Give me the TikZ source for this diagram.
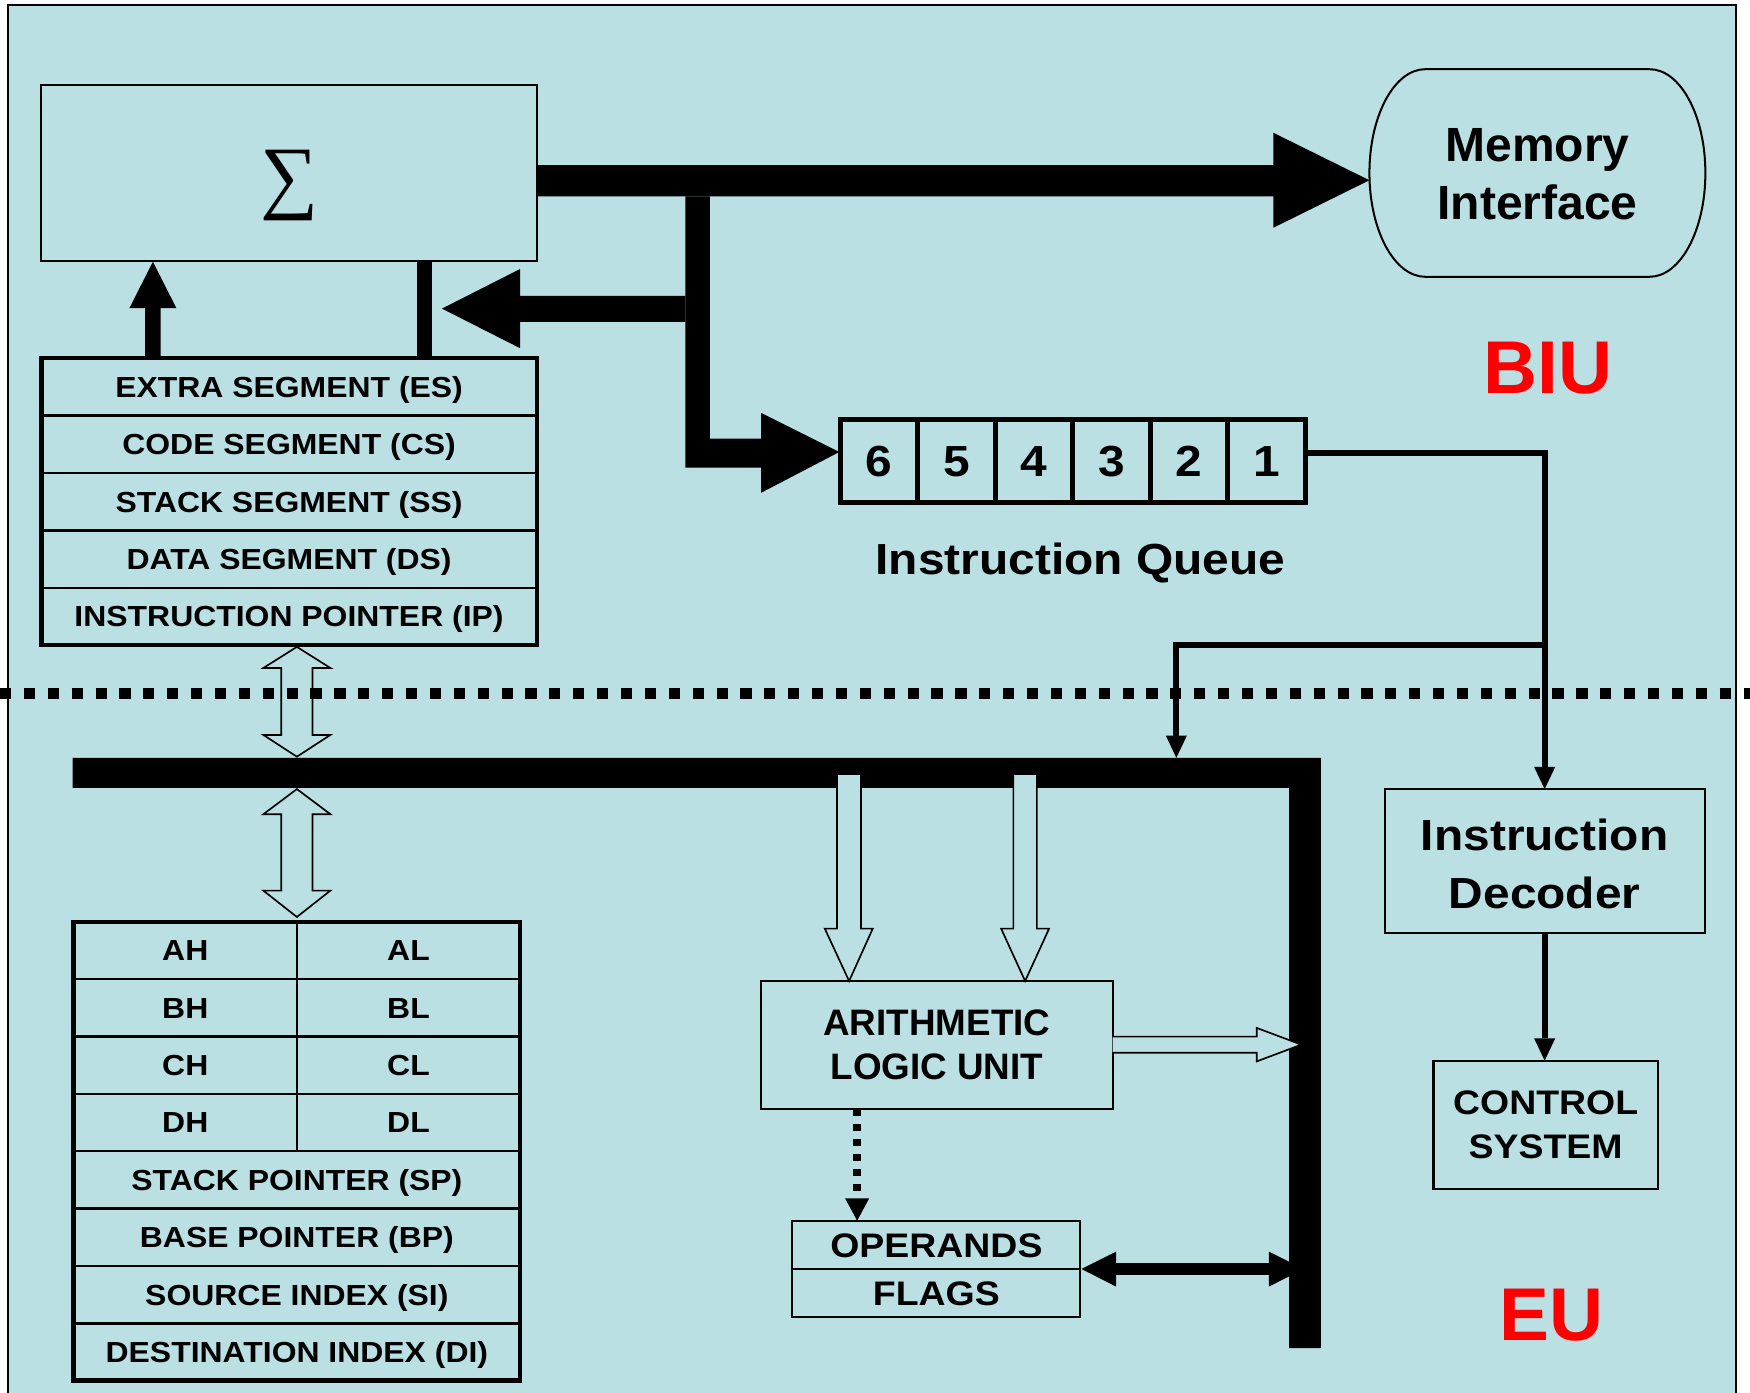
\documentclass[tikz,border=0pt]{standalone}
\usepackage{fontspec}
\setmainfont{Liberation Sans}
\newfontfamily\wsans[FakeStretch=1.1]{Liberation Sans}
\newfontfamily\symserif{Liberation Serif}
\usetikzlibrary{arrows.meta}
\definecolor{bgblue}{RGB}{186,224,227}
\definecolor{biured}{RGB}{255,0,0}
\newcommand\fReg{\wsans\bfseries\fontsize{26}{30}\selectfont}
\newcommand\fDig{\wsans\bfseries\fontsize{39}{44}\selectfont}
\newcommand\fIQ{\wsans\bfseries\fontsize{39}{44}\selectfont}
\newcommand\fID{\wsans\bfseries\fontsize{39}{52.3}\selectfont}
\newcommand\fMem{\bfseries\fontsize{43}{51.7}\selectfont}
\newcommand\fALU{\bfseries\fontsize{33}{39}\selectfont}
\newcommand\fCS{\wsans\bfseries\fontsize{30.5}{39.8}\selectfont}
\newcommand\fOp{\wsans\bfseries\fontsize{30.5}{36}\selectfont}
\newcommand\fBig{\bfseries\fontsize{67}{70}\selectfont}
\newcommand\fSig{\symserif\fontsize{73}{76}\selectfont}
\begin{document}
\begin{tikzpicture}[x=1pt,y=-1pt,
  thinbox/.style={draw,line width=1.8pt,inner sep=0pt,outer sep=0pt},
  cellA/.style={draw,line width=2.2pt,inner sep=0pt,outer sep=0pt,font=\fReg,text height=18.6pt,text depth=0pt},
  segcell/.style={cellA,minimum width=444pt,minimum height=51.4pt},
  gphalf/.style={cellA,minimum width=200pt,minimum height=51.375pt},
  gpfull/.style={cellA,minimum width=400pt,minimum height=51.375pt},
  qcell/.style={draw,line width=4.5pt,inner sep=0pt,outer sep=0pt,minimum width=69.4pt,minimum height=74pt,font=\fDig,text height=27.9pt,text depth=0pt},
  fat/.style={fill=black},
  hollow/.style={fill=bgblue,draw=black,line width=1.5pt,line join=miter},
  conn/.style={line width=5.5pt,-{Triangle[length=20pt,width=19pt,line width=0pt]}},
  bigred/.style={font=\fBig,text=biured,text height=48pt,text depth=0pt,inner sep=0pt},
]
\useasboundingbox (0,0) rectangle (1568,1248);
% background and frame
\fill[white] (0,0) rectangle (1568,1248);
\fill[bgblue] (7,4.5) rectangle (1555.5,1250);
\draw[line width=1.8pt] (7,1252) -- (7,4.5) -- (1555.5,4.5) -- (1555.5,1252);

% Sigma box
\node[thinbox,minimum width=444pt,minimum height=158pt] (sigbox) at (259,155) {};
\node[font=\fSig,inner sep=0pt] (sig) at (259,166) {∑};

% fat arrows of the BIU
\fill[fat] (481,148) -- (1141,148) -- (1141,119) -- (1227,161.5) -- (1141,204) -- (1141,176) -- (481,176) -- cycle;
\fill[fat] (614,176) -- (636,176) -- (636,393) -- (682,393) -- (682,370) -- (752,405) -- (682,441.5) -- (682,419) -- (614,419) -- cycle;
\fill[fat] (614,265) -- (466,265) -- (466,241) -- (396,276.5) -- (466,312) -- (466,288.5) -- (614,288.5) -- cycle;
\fill[fat] (130,321) -- (144,321) -- (144,276) -- (158,276) -- (137,234.5) -- (116,276) -- (130,276) -- cycle;
\fill[fat] (374,234) rectangle (387,321);

% segment registers
\node[segcell] (es) at (259,346.7) {EXTRA SEGMENT (ES)};
\node[segcell] (cs) at (259,398.1) {CODE SEGMENT (CS)};
\node[segcell] (ss) at (259,449.5) {STACK SEGMENT (SS)};
\node[segcell] (ds) at (259,500.9) {DATA SEGMENT (DS)};
\node[segcell] (ip) at (259,552.3) {INSTRUCTION POINTER (IP)};
\draw[line width=4pt] (es.north west) rectangle (ip.south east);

% Memory interface
\draw[line width=1.8pt] (1277,62) -- (1478,62) .. controls (1505.6,62) and (1528,103.6) .. (1528,155)
  .. controls (1528,206.4) and (1505.6,248) .. (1478,248) -- (1277,248)
  .. controls (1249.4,248) and (1227,206.4) .. (1227,155)
  .. controls (1227,103.6) and (1249.4,62) .. (1277,62) -- cycle;
\node[font=\fMem,align=center,inner sep=0pt] (mem) at (1377.5,156.4) {Memory\\Interface};

% instruction queue
\node[qcell] (q6) at (787.7,413) {6};
\node[qcell] (q5) at (857.1,413) {5};
\node[qcell] (q4) at (926.5,413) {4};
\node[qcell] (q3) at (995.9,413) {3};
\node[qcell] (q2) at (1065.3,413) {2};
\node[qcell] (q1) at (1134.7,413) {1};
\node[font=\fIQ,anchor=base,inner sep=0pt] (iqlabel) at (968,515) {Instruction Queue};

\node[bigred] (biu) at (1387,329) {BIU};

% execution unit boxes
\node[thinbox,minimum width=286.9pt,minimum height=128.7pt] (id) at (1384,771.4) {};
\node[font=\fID,align=center,inner sep=0pt] (idtxt) at (1384,774.3) {Instruction\\Decoder};
\node[thinbox,minimum width=201pt,minimum height=115pt,font=\fCS,align=center] (ctl) at (1384.9,1007.8) {CONTROL\\SYSTEM};

% thin connectors
\coordinate (qout) at (1169.4,405.6);
\coordinate (jn) at (1384,578);
\coordinate (busin) at (1054,679);
\draw[conn] (qout) -| (id.north);
\draw[conn] (jn) -| (busin);
\draw[conn] (id.south) -- (id.south |- ctl.north);

% black double arrow operands <-> bus (tip hidden by bus)
\fill[fat] (969,1137) -- (1000,1121.5) -- (1000,1131.75) -- (1137,1131.75) -- (1137,1121.5) -- (1168,1137)
  -- (1137,1152.75) -- (1137,1142.25) -- (1000,1142.25) -- (1000,1152.75) -- cycle;

% EU internal bus
\fill[fat] (65,679) -- (1183.5,679) -- (1183.5,1208) -- (1155,1208) -- (1155,706) -- (65,706) -- cycle;

% hollow arrows
\path[hollow] (266,579.6) -- (296,598.5) -- (280,598.5) -- (280,658.5) -- (296,658.5) -- (266,678)
  -- (236,658.5) -- (252,658.5) -- (252,598.5) -- (236,598.5) -- cycle;
\path[hollow] (266,707) -- (296,729.5) -- (280,729.5) -- (280,798) -- (296,798) -- (266,821.6)
  -- (236,798) -- (252,798) -- (252,729.5) -- (236,729.5) -- cycle;
\path[hollow] (750,693.5) -- (771.5,693.5) -- (771.5,832) -- (782,832) -- (760.8,879) -- (739,832) -- (750,832) -- cycle;
\path[hollow] (908,693.5) -- (929,693.5) -- (929,832) -- (940,832) -- (918.5,879) -- (897,832) -- (908,832) -- cycle;

% general registers
\node[gphalf] (ah) at (166,851.7) {AH};
\node[gphalf] (al) at (366,851.7) {AL};
\node[gphalf] (bh) at (166,903.1) {BH};
\node[gphalf] (bl) at (366,903.1) {BL};
\node[gphalf] (ch) at (166,954.4) {CH};
\node[gphalf] (cl) at (366,954.4) {CL};
\node[gphalf] (dh) at (166,1005.8) {DH};
\node[gphalf] (dl) at (366,1005.8) {DL};
\node[gpfull] (sp) at (266,1057.2) {STACK POINTER (SP)};
\node[gpfull] (bp) at (266,1108.6) {BASE POINTER (BP)};
\node[gpfull] (si) at (266,1160) {SOURCE INDEX (SI)};
\node[gpfull] (di) at (266,1211.3) {DESTINATION INDEX (DI)};
\draw[line width=4pt] (ah.north west) rectangle (di.south east);

% ALU and operands
\node[thinbox,minimum width=315pt,minimum height=115pt,font=\fALU,align=center] (alu) at (839.5,936.2) {ARITHMETIC\\LOGIC UNIT};
\path[hollow] (alu.east |- 0,928.8) -- (1126,928.8) -- (1126,921) -- (1166,936) -- (1126,951) -- (1126,943.2) -- (alu.east |- 0,943.2);
\node[thinbox,minimum width=258pt,minimum height=43.3pt,font=\fOp,text height=21.8pt,text depth=0pt] (ops) at (839,1115.4) {OPERANDS};
\node[thinbox,minimum width=258pt,minimum height=43pt,font=\fOp,text height=21.8pt,text depth=0pt] (flags) at (839,1158.4) {FLAGS};
\draw[line width=6.6pt,dash pattern=on 6.6pt off 6.8pt,-{Triangle[length=20pt,width=21.5pt,line width=0pt]}]
  ([xshift=-71.5pt]alu.south) -- ([xshift=-71pt]ops.north);

\node[bigred] (eu) at (1390,1177) {EU};

% BIU / EU separator
\draw[line width=10pt,dash pattern=on 10pt off 11.4pt] (0,621) -- (1568,621);
\end{tikzpicture}
\end{document}
